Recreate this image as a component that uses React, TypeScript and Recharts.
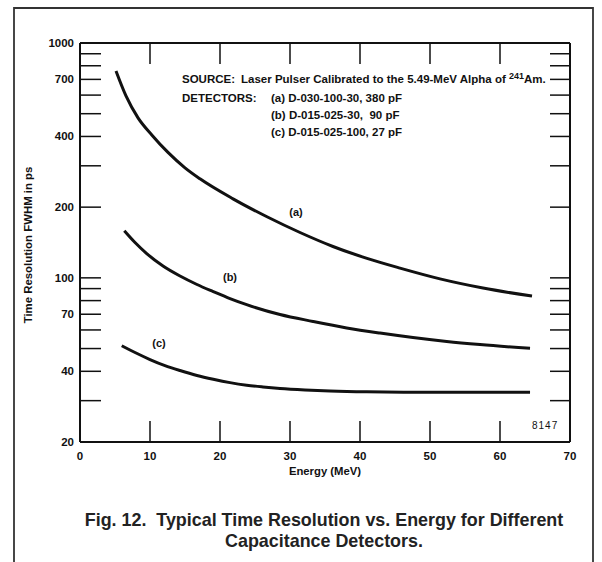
import React from 'react';
import { LineChart, Line, XAxis, YAxis } from 'recharts';

// curve (a) D-030-100-30, 380 pF
const energyA = [5.14, 6.57, 8.29, 10.29, 12.57, 15, 17.14, 21.86, 26.71, 31.43, 36.14, 41, 45.71, 51.43, 57.57, 64.57];
const fwhmA = [760, 595, 480, 405, 342, 294, 264, 217, 182, 156, 136, 121, 110, 99, 90.5, 83.6];

// curve (b) D-015-025-30, 90 pF
const energyB = [6.33, 7.86, 9.53, 11.86, 14.29, 16.71, 19.04, 21.43, 23.81, 28.57, 33.29, 38.1, 42.86, 47.57, 52.39, 57.14, 64.29];
const fwhmB = [158.7, 141.4, 126.9, 112.3, 101.8, 93.7, 87.4, 81.6, 76.9, 69.8, 65.2, 61.2, 58.2, 55.7, 53.6, 52, 50.1];

// curve (c) D-015-025-100, 27 pF
const energyC = [5.96, 7.86, 10, 12.14, 14.29, 16.71, 19.04, 21.43, 23.81, 26.14, 28.57, 32.14, 35.71, 40.96, 48.57, 64.29];
const fwhmC = [51.4, 48.1, 44.9, 42.3, 40.3, 38.4, 37, 35.8, 34.9, 34.3, 33.8, 33.3, 32.95, 32.7, 32.6, 32.6];

const energyTicks = [0, 10, 20, 30, 40, 50, 60, 70];
const fwhmTicks = [20, 30, 40, 50, 60, 70, 80, 90, 100, 200, 300, 400, 500, 600, 700, 800, 900, 1000];
const fwhmLabels = [20, 40, 70, 100, 200, 400, 700, 1000];

const toPoints = (xs: number[], ys: number[]) => xs.map((e, i) => ({ energy: e, fwhm: ys[i] }));

const FONT = '"Liberation Sans", Arial, Helvetica, sans-serif';
const INK = '#111';
const TICK = 21;

const LeftTick = ({ x, y, payload }: any) => {
  const v = payload.value;
  return (
    <g>
      {v !== 20 && v !== 1000 && <line x1={x} x2={x + TICK} y1={y} y2={y} stroke={INK} strokeWidth={1.5} />}
      {fwhmLabels.includes(v) && (
        <text x={x - 6} y={y + 4} textAnchor="end" fontFamily={FONT} fontWeight="bold" fontSize={11.5} fill={INK}>
          {v}
        </text>
      )}
    </g>
  );
};

const RightTick = ({ x, y, payload }: any) => {
  const v = payload.value;
  if (v === 20 || v === 1000) return <g />;
  return <line x1={x - TICK + 1} x2={x} y1={y} y2={y} stroke={INK} strokeWidth={1.5} />;
};

const BottomTick = ({ x, y, payload }: any) => {
  const v = payload.value;
  return (
    <g>
      {v !== 0 && v !== 70 && <line x1={x} x2={x} y1={y} y2={y - TICK} stroke={INK} strokeWidth={1.5} />}
      <text x={x} y={y + 18} textAnchor="middle" fontFamily={FONT} fontWeight="bold" fontSize={11.5} fill={INK}>
        {v}
      </text>
    </g>
  );
};

const TopTick = ({ x, y, payload }: any) => {
  const v = payload.value;
  if (v === 0 || v === 70) return <g />;
  return <line x1={x} x2={x} y1={y} y2={y + TICK} stroke={INK} strokeWidth={1.5} />;
};

const axisLine = { stroke: INK, strokeWidth: 2 };

export default function App() {
  const txt = { fontFamily: FONT, fontWeight: 'bold' as const, fill: INK };
  return (
    <div style={{ position: 'absolute', left: 0, top: 0, width: 602, height: 562, background: '#fff' }}>
      <LineChart width={602} height={562} margin={{ top: 42, right: 31, bottom: 119, left: 79 }}>
        <XAxis xAxisId="bottom" orientation="bottom" type="number" dataKey="energy" domain={[0, 70]}
          ticks={energyTicks} height={1} tickSize={0} tickMargin={0} tickLine={false} axisLine={axisLine}
          tick={<BottomTick />} allowDataOverflow interval={0} />
        <XAxis xAxisId="top" orientation="top" type="number" dataKey="energy" domain={[0, 70]}
          ticks={energyTicks} height={1} tickSize={0} tickMargin={0} tickLine={false} axisLine={axisLine}
          tick={<TopTick />} allowDataOverflow interval={0} />
        <YAxis yAxisId="left" orientation="left" type="number" scale="log" domain={[20, 1000]}
          ticks={fwhmTicks} width={1} tickSize={0} tickMargin={0} tickLine={false} axisLine={axisLine}
          tick={<LeftTick />} allowDataOverflow interval={0} />
        <YAxis yAxisId="right" orientation="right" type="number" scale="log" domain={[20, 1000]}
          ticks={fwhmTicks} width={1} tickSize={0} tickMargin={0} tickLine={false} axisLine={axisLine}
          tick={<RightTick />} allowDataOverflow interval={0} />
        <Line xAxisId="bottom" yAxisId="left" data={toPoints(energyA, fwhmA)} dataKey="fwhm" type="monotone"
          stroke={INK} strokeWidth={3} dot={false} isAnimationActive={false} />
        <Line xAxisId="bottom" yAxisId="left" data={toPoints(energyB, fwhmB)} dataKey="fwhm" type="monotone"
          stroke={INK} strokeWidth={3} dot={false} isAnimationActive={false} />
        <Line xAxisId="bottom" yAxisId="left" data={toPoints(energyC, fwhmC)} dataKey="fwhm" type="monotone"
          stroke={INK} strokeWidth={3} dot={false} isAnimationActive={false} />
        <Line xAxisId="top" yAxisId="right" data={toPoints(energyC, fwhmC)} dataKey="fwhm" type="monotone"
          stroke="none" dot={false} isAnimationActive={false} />
      </LineChart>
      <svg width={602} height={562} style={{ position: 'absolute', left: 0, top: 0, pointerEvents: 'none' }}>
        <path d="M14,562 V8 H593 V562" fill="none" stroke="#333" strokeWidth={1.8} />
        <text {...txt} fontSize={11.4} transform="translate(32,245) rotate(-90)" textAnchor="middle">
          Time Resolution FWHM in ps
        </text>
        <text {...txt} fontSize={11.3} x={325} y={475} textAnchor="middle">Energy (MeV)</text>
        <text {...txt} fontSize={11.5} x={182} y={83}>
          SOURCE:<tspan x={241}>Laser Pulser Calibrated to the 5.49-MeV Alpha of </tspan>
          <tspan fontSize={9} dy={-4}>241</tspan>
          <tspan dy={4}>Am.</tspan>
        </text>
        <text {...txt} fontSize={11.5} x={182} y={102}>DETECTORS:</text>
        <text {...txt} fontSize={11.5} x={271} y={102} style={{ whiteSpace: 'pre' }}>(a) D-030-100-30, 380 pF</text>
        <text {...txt} fontSize={11.5} x={271} y={119} style={{ whiteSpace: 'pre' }}>(b) D-015-025-30,  90 pF</text>
        <text {...txt} fontSize={11.5} x={271} y={136} style={{ whiteSpace: 'pre' }}>(c) D-015-025-100, 27 pF</text>
        <text {...txt} fontSize={11} x={296} y={216} textAnchor="middle">(a)</text>
        <text {...txt} fontSize={11} x={230} y={281} textAnchor="middle">(b)</text>
        <text {...txt} fontSize={11} x={159} y={347} textAnchor="middle">(c)</text>
        <text fontFamily={FONT} fontSize={10} fill={INK} x={532} y={429} letterSpacing={1}>8147</text>
        <text fontFamily={FONT} fontWeight="bold" fontSize={17.9} fill="#222" x={324} y={526} textAnchor="middle"
          style={{ whiteSpace: 'pre' }}>
          Fig. 12.  Typical Time Resolution vs. Energy for Different
        </text>
        <text fontFamily={FONT} fontWeight="bold" fontSize={17.9} fill="#222" x={324} y={547} textAnchor="middle">
          Capacitance Detectors.
        </text>
      </svg>
    </div>
  );
}
